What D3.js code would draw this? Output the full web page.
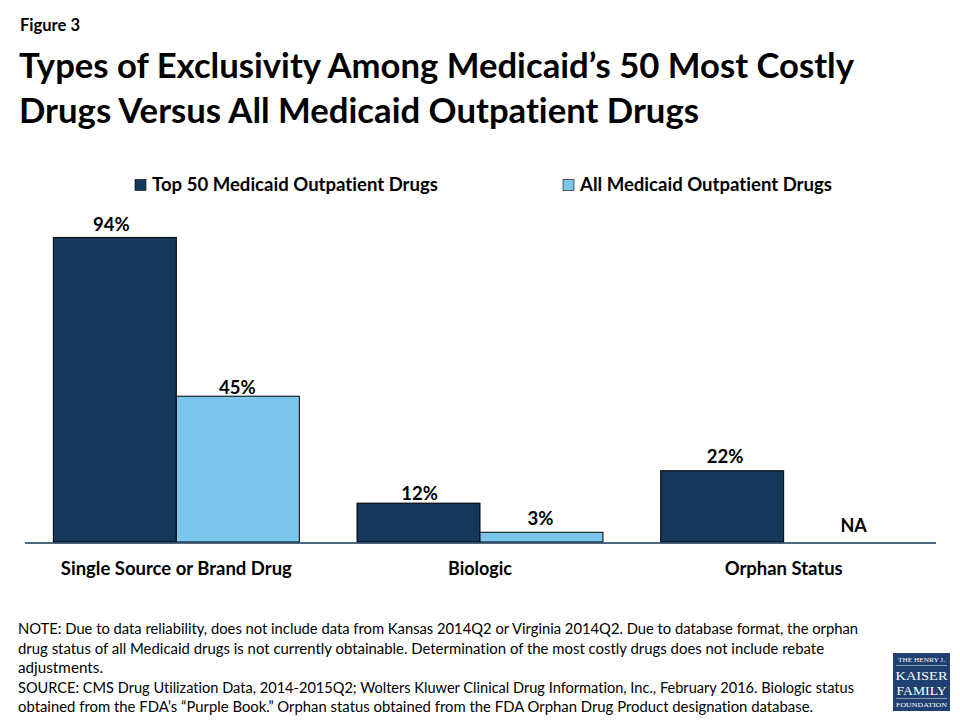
<!DOCTYPE html>
<html>
<head>
<meta charset="utf-8">
<script src="https://cdn.jsdelivr.net/npm/d3@7"></script>
<style>
  body { margin: 0; background: #fff; }
  svg { display: block; }
  text { font-family: Lato, "Open Sans", sans-serif; fill: #000; font-variant-ligatures: none; }
</style>
</head>
<body>
<div id="chart"></div>
<script>
var categories = ["Single Source or Brand Drug", "Biologic", "Orphan Status"];
var seriesNames = ["Top 50 Medicaid Outpatient Drugs", "All Medicaid Outpatient Drugs"];
var top50Values = [94, 12, 22];
var allValues = [45, 3, null];
var seriesColors = ["#14375a", "#7cc6ee"];

var figureLabel = "Figure 3";
var titleLines = [
  "Types of Exclusivity Among Medicaid\u2019s 50 Most Costly",
  "Drugs Versus All Medicaid Outpatient Drugs"
];
var noteLines = [
  "NOTE: Due to data reliability, does not include data from Kansas 2014Q2 or Virginia 2014Q2. Due to database format, the orphan",
  "drug status of all Medicaid drugs is not currently obtainable. Determination of the most costly drugs does not include rebate",
  "adjustments.",
  "SOURCE: CMS Drug Utilization Data, 2014-2015Q2; Wolters Kluwer Clinical Drug Information, Inc., February 2016. Biologic status",
  "obtained from the FDA\u2019s \u201cPurple Book.\u201d Orphan status obtained from the FDA Orphan Drug Product designation database."
];
var noteWidths = [840, 806, 85, 836, 795];

// label nudges, per series then category
var labelGap = [[6, 3, 8], [2, 7, 0]];
var labelShift = [[-3.5, 1, 3], [-0.5, -1, 8.5]];

var svg = d3.select("#chart").append("svg").attr("width", 960).attr("height", 720);

svg.append("text").attr("x", 20).attr("y", 31)
  .attr("textLength", 60).attr("lengthAdjust", "spacingAndGlyphs")
  .style("font-size", "16.5px").style("font-weight", 700).text(figureLabel);

var titleWidths = [835, 680];
titleLines.forEach(function(line, i) {
  svg.append("text").attr("x", 19).attr("y", 78 + i * 45)
    .attr("textLength", titleWidths[i]).attr("lengthAdjust", "spacingAndGlyphs")
    .style("font-size", "34px").style("font-weight", 700).text(line);
});

// scales
var x0 = d3.scaleBand().domain(categories).range([24.5, 935.5]).paddingInner(0.19).paddingOuter(0.095);
var x1 = d3.scaleBand().domain([0, 1]).range([0, x0.bandwidth()]);
var y = d3.scaleLinear().domain([0, 100]).range([542, 218]);

// legend
var legendX = [135, 563];
var legendW = [286, 252];
seriesNames.forEach(function(name, i) {
  svg.append("rect").attr("x", legendX[i]).attr("y", 179.5).attr("width", 11).attr("height", 11)
    .attr("fill", seriesColors[i]).attr("stroke", "#000").attr("stroke-width", 0.6);
  svg.append("text").attr("x", legendX[i] + 17).attr("y", 191)
    .attr("textLength", legendW[i]).attr("lengthAdjust", "spacingAndGlyphs")
    .style("font-size", "18px").style("font-weight", 700).text(name);
});

// bars
[top50Values, allValues].forEach(function(values, s) {
  categories.forEach(function(cat, i) {
    var v = values[i];
    var cx = x0(cat) + x1(s) + x1.bandwidth() / 2 + labelShift[s][i];
    if (v === null) {
      svg.append("text").attr("x", cx).attr("y", 532).attr("text-anchor", "middle")
        .style("font-size", "18px").style("font-weight", 700).text("NA");
      return;
    }
    svg.append("rect")
      .attr("x", x0(cat) + x1(s)).attr("y", y(v))
      .attr("width", x1.bandwidth()).attr("height", y(0) - y(v))
      .attr("fill", seriesColors[s]).attr("stroke", "#000").attr("stroke-width", 1);
    svg.append("text").attr("x", cx).attr("y", y(v) - labelGap[s][i]).attr("text-anchor", "middle")
      .style("font-size", "18.5px").style("font-weight", 700).text(v + "%");
  });
});

// category axis
var tickWidths = [231, 64, 118];
var axis = svg.append("g").attr("transform", "translate(0,542.5)")
  .call(d3.axisBottom(x0).tickSize(0).tickPadding(20));
axis.select(".domain").attr("stroke", "#14375a").attr("stroke-width", 1.5);
axis.selectAll("text")
  .attr("textLength", function(d, i) { return tickWidths[i]; })
  .attr("lengthAdjust", "spacingAndGlyphs")
  .style("font-size", "18px").style("font-weight", 700)
  .style("font-family", "Lato, 'Open Sans', sans-serif").attr("fill", "#000");

// notes
noteLines.forEach(function(line, i) {
  svg.append("text").attr("x", 18).attr("y", 634 + i * 19.6)
    .attr("textLength", noteWidths[i]).attr("lengthAdjust", "spacingAndGlyphs")
    .style("font-size", "14.5px").text(line);
});

// logo
var logo = svg.append("g").attr("transform", "translate(893,653)");
logo.append("rect").attr("width", 57).attr("height", 58).attr("fill", "#1f4070");
var logoLines = [
  { t: "THE HENRY J.", y: 9, s: 6.5, w: 47 },
  { t: "KAISER", y: 27, s: 13.5, w: 52 },
  { t: "FAMILY", y: 42, s: 13.5, w: 50 },
  { t: "FOUNDATION", y: 54, s: 6.5, w: 51 }
];
logoLines.forEach(function(d) {
  logo.append("text").attr("x", 28.5).attr("y", d.y).attr("text-anchor", "middle")
    .attr("textLength", d.w).attr("lengthAdjust", "spacingAndGlyphs")
    .style("font-family", "'Liberation Serif', serif").style("font-size", d.s + "px")
    .style("fill", "#fff").text(d.t);
});
[12.5, 45.5].forEach(function(ly) {
  logo.append("line").attr("x1", 3).attr("x2", 54).attr("y1", ly).attr("y2", ly)
    .attr("stroke", "#9fb3cc").attr("stroke-width", 0.8);
});
</script>
</body>
</html>
